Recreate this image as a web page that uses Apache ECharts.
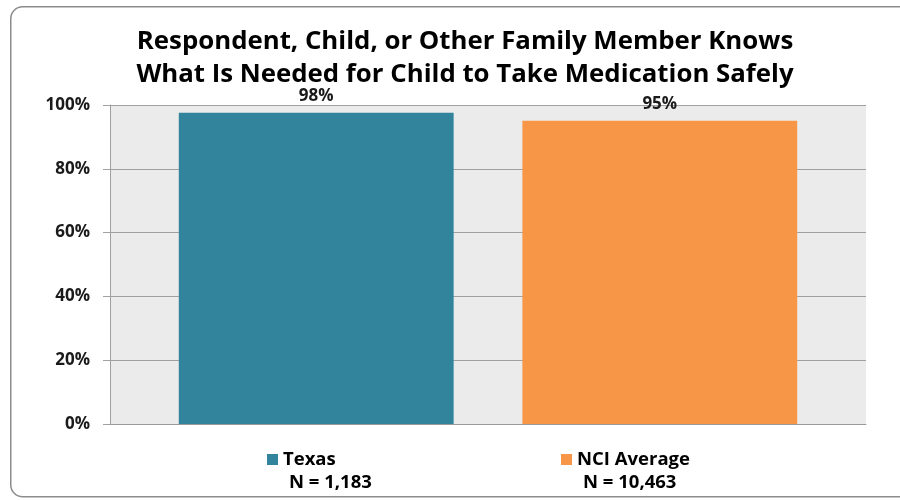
<!DOCTYPE html>
<html>
<head>
<meta charset="utf-8">
<script src="https://cdn.jsdelivr.net/npm/echarts@6/dist/echarts.min.js"></script>
<style>
html,body{margin:0;padding:0;background:#fff;}
#chart{width:900px;height:500px;}
</style>
</head>
<body>
<div id="chart"></div>
<script>
var titleLines = ['Respondent, Child, or Other Family Member Knows', 'What Is Needed for Child to Take Medication Safely'];
var categories = [''];
var seriesNames = ['Texas', 'NCI Average'];
var sampleSizes = ['N = 1,183', 'N = 10,463'];
var texasValues = [97.6];
var nciValues = [95.1];
var yTicks = [0, 20, 40, 60, 80, 100];
var colors = ['#31849b', '#f79646'];

var FONT = '"Open Sans", Lato, sans-serif';
var chart = echarts.init(document.getElementById('chart'), null, {renderer: 'canvas'});

function barLabel() {
  return {
    show: true, position: 'top', distance: 8,
    fontFamily: FONT, fontWeight: 'bold', fontSize: 17, color: '#1a1a1a',
    formatter: function (p) { return Math.round(p.value) + '%'; }
  };
}

var option = {
  animation: false,
  backgroundColor: '#ffffff',
  graphic: [{
    type: 'rect', left: 10, top: 6, z: -10,
    shape: {width: 905, height: 490, r: 12},
    style: {fill: '#ffffff', stroke: '#8c8c8c', lineWidth: 1.5}
  }],
  title: {
    text: titleLines.join('\n'),
    left: 460, top: 20, textAlign: 'center',
    textStyle: {fontFamily: FONT, fontWeight: 'bold', fontSize: 25.8, lineHeight: 33, color: '#000'}
  },
  grid: {left: 110, right: 34, top: 105, bottom: 76, show: true, backgroundColor: '#ebebeb', borderWidth: 0},
  legend: {
    data: seriesNames,
    left: 267, top: 427, padding: 0,
    orient: 'horizontal',
    icon: 'rect', itemWidth: 11, itemHeight: 11, itemGap: 160,
    formatter: function (name) {
      var i = seriesNames.indexOf(name);
      return '{e| }\n{t|' + name + '}\n{n|' + sampleSizes[i] + '}';
    },
    textStyle: {
      fontFamily: FONT, fontWeight: 'bold', fontSize: 18.5, color: '#000',
      rich: {
        e: {fontSize: 18.5, lineHeight: 23, width: 112},
        t: {fontFamily: FONT, fontWeight: 'bold', fontSize: 18.5, lineHeight: 23, width: 112, color: '#000'},
        n: {fontFamily: FONT, fontWeight: 'bold', fontSize: 18.5, lineHeight: 23, width: 112, padding: [0, 0, 0, 6], color: '#000'}
      }
    }
  },
  xAxis: {
    type: 'category', data: categories,
    axisLine: {show: true, lineStyle: {color: '#9a9a9a', width: 1}},
    axisTick: {show: false},
    axisLabel: {show: false}
  },
  yAxis: {
    type: 'value', min: 0, max: 100, interval: 20,
    axisLine: {show: true, lineStyle: {color: '#a0a0a0', width: 1}},
    axisTick: {show: true, length: 7, inside: false, lineStyle: {color: '#a0a0a0'}},
    splitLine: {show: true, lineStyle: {color: '#a0a0a0', width: 1}},
    axisLabel: {
      margin: 20, fontFamily: FONT, fontWeight: 'bold', fontSize: 17, color: '#1a1a1a',
      customValues: yTicks,
      formatter: function (v) { return v + '%'; }
    }
  },
  series: [
    {name: seriesNames[0], type: 'bar', data: texasValues, itemStyle: {color: colors[0]},
     barGap: '25%', barCategoryGap: '18.2%', label: barLabel()},
    {name: seriesNames[1], type: 'bar', data: nciValues, itemStyle: {color: colors[1]},
     barGap: '25%', barCategoryGap: '18.2%', label: barLabel()}
  ]
};
chart.setOption(option);
</script>
</body>
</html>
